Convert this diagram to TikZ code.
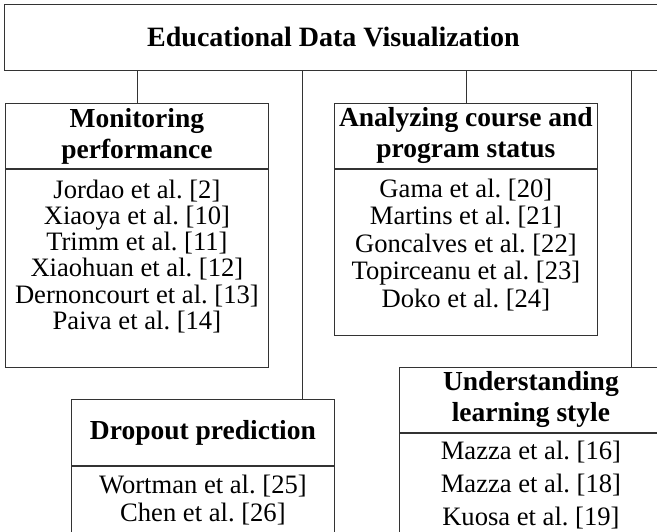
\documentclass[tikz,border=0pt]{standalone}
\usepackage{fontspec}
\setmainfont{Liberation Serif}
\usetikzlibrary{positioning}
\definecolor{edgegray}{gray}{0.2}
\frenchspacing

\begin{document}
\begin{tikzpicture}[x=1pt, y=-1pt,
	box/.style = {draw=edgegray, line width=0.8pt, minimum width=263pt, inner sep=0pt, align=center},
	head/.style = {box, minimum height=65pt, anchor=north west, font=\fontsize{27.5}{31}\selectfont\bfseries},
	body/.style = {box, font=\fontsize{26.6}{#1}\selectfont},
	conn/.style = {draw=edgegray, line width=0.8pt}]
	\useasboundingbox (0,0) rectangle (657,531);
	\clip (0,0) rectangle (657,531);

	\node [box, minimum width=658pt, minimum height=66pt, anchor=north west, font=\fontsize{28}{32}\selectfont\bfseries] (title) at (4,4) {Educational Data Visualization};

	\node [head] (mon) at (5,103) {Monitoring\\performance};
	\node [body=26.2, below=0pt of mon, text height=160pt, text depth=38pt] (monb) {Jordao et al. [2]\\Xiaoya et al. [10]\\Trimm et al. [11]\\Xiaohuan et al. [12]\\Dernoncourt et al. [13]\\Paiva et al. [14]};

	\node [head] (ana) at (334,103) {Analyzing course and\\program status};
	\node [body=27.5, below=0pt of ana, text height=138pt, text depth=28pt] (anab) {Gama et al. [20]\\Martins et al. [21]\\Goncalves et al. [22]\\Topirceanu et al. [23]\\Doko et al. [24]};

	\node [head, minimum height=66pt] (drop) at (71,399) {Dropout prediction};
	\node [body=28, below=0pt of drop, text height=55pt, text depth=25pt] (dropb) {Wortman et al. [25]\\Chen et al. [26]};

	\node [head] (und) at (399,367) {Understanding\\learning style};
	\node [body=33, below=0pt of und, text height=92pt, text depth=21pt] (undb) {Mazza et al. [16]\\Mazza et al. [18]\\Kuosa et al. [19]};

	\draw [conn] (title.south -| mon.north) -- (mon.north);
	\draw [conn] (title.south -| ana.north) -- (ana.north);
	\draw [conn] (title.south -| 302,0) -- (drop.north -| 302,0);
	\draw [conn] (title.south -| 631,0) -- (und.north -| 631,0);
\end{tikzpicture}
\end{document}
